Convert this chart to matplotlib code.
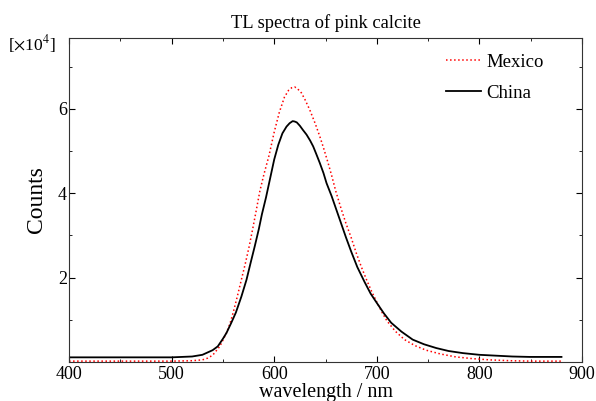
import matplotlib.pyplot as plt
from matplotlib.ticker import MultipleLocator, FixedLocator

# wavelength (nm) and counts (x10^4)
wl_mexico = [400, 450, 500, 520, 530, 535, 540, 547, 553.5, 557, 560, 564, 568, 572, 575.6,
             579, 582, 586, 590, 595, 600, 605, 610, 614, 617, 620, 623, 626.5, 630, 634.6,
             640, 644.4, 648, 652.5, 656, 660, 665, 670, 675, 680, 685, 690, 695, 700, 705,
             710, 718, 727, 737, 748, 762, 777, 793, 810, 830, 850, 880]
cnt_mexico = [0.02, 0.02, 0.02, 0.03, 0.05, 0.09, 0.16, 0.37, 0.69, 0.92, 1.17, 1.55, 1.95, 2.35, 2.74,
              3.15, 3.53, 4.05, 4.45, 4.90, 5.45, 5.92, 6.28, 6.44, 6.50, 6.52, 6.47, 6.38, 6.22, 5.98,
              5.65, 5.35, 5.08, 4.72, 4.42, 4.05, 3.65, 3.28, 2.95, 2.58, 2.25, 1.95, 1.67, 1.42, 1.18,
              0.97, 0.73, 0.53, 0.39, 0.28, 0.19, 0.12, 0.08, 0.05, 0.03, 0.02, 0.02]

wl_china = [400, 450, 500, 520, 530, 540, 545, 550, 553.5, 558, 562.6, 568, 573, 577, 581,
            585, 588, 592, 596, 600, 604, 608, 612, 615, 618, 620, 622, 625, 628, 631.5,
            635, 638, 641, 644.4, 648, 651, 656, 660, 665, 670, 675, 681, 688, 694, 700,
            707, 714, 724, 735, 746, 758, 770, 784, 800, 816, 832, 849, 865, 880]
cnt_china = [0.11, 0.11, 0.11, 0.13, 0.17, 0.28, 0.37, 0.55, 0.69, 0.92, 1.17, 1.55, 1.95, 2.35, 2.74,
             3.15, 3.50, 3.90, 4.35, 4.80, 5.15, 5.42, 5.58, 5.66, 5.71, 5.70, 5.68, 5.60, 5.50, 5.39,
             5.25, 5.11, 4.93, 4.72, 4.48, 4.24, 3.93, 3.65, 3.30, 2.95, 2.62, 2.25, 1.90, 1.62, 1.40,
             1.15, 0.93, 0.72, 0.53, 0.42, 0.33, 0.26, 0.21, 0.17, 0.15, 0.13, 0.12, 0.12, 0.12]

plt.rcParams['font.family'] = ['Liberation Serif', 'DejaVu Serif']
plt.rcParams['mathtext.fontset'] = 'stix'

fig = plt.figure(figsize=(5.96, 4.01), dpi=100)
ax = fig.add_axes([0.1158, 0.0973, 0.8607, 0.8079])

ax.plot(wl_mexico, cnt_mexico, color='red', linestyle=':', linewidth=1.1, label='Mexico')
ax.plot(wl_china, cnt_china, color='black', linewidth=1.3, label='China')

ax.set_xlim(400, 900)
ax.set_ylim(0, 7.68)
ax.xaxis.set_major_locator(MultipleLocator(100))
ax.xaxis.set_minor_locator(MultipleLocator(50))
ax.yaxis.set_major_locator(FixedLocator([2, 4, 6]))
ax.yaxis.set_minor_locator(FixedLocator([1, 3, 5, 7]))
ax.tick_params(which='both', direction='in', top=True, right=True, labelsize=13)
ax.tick_params(axis='x', pad=3)
ax.tick_params(axis='y', pad=1.5)
ax.tick_params(which='major', length=4.5)
ax.tick_params(which='minor', length=2.5)
for s in ax.spines.values():
    s.set_color('#333333')

ax.set_title('TL spectra of pink calcite', fontsize=13.3, pad=7)
ax.set_xlabel('wavelength / nm', fontsize=14.5, labelpad=0)
ax.set_ylabel('Counts', fontsize=17, labelpad=8)
ax.text(-0.025, 0.981, r'[$\times$10$^4$]', transform=ax.transAxes, ha='right', va='center', fontsize=12.5)

ax.legend(loc='upper right', frameon=False, fontsize=13.5, handlelength=1.87, handletextpad=0.3,
          labelspacing=0.75, borderpad=0, borderaxespad=0, bbox_to_anchor=(0.926, 0.952))

fig.savefig('out.png', dpi=100)
